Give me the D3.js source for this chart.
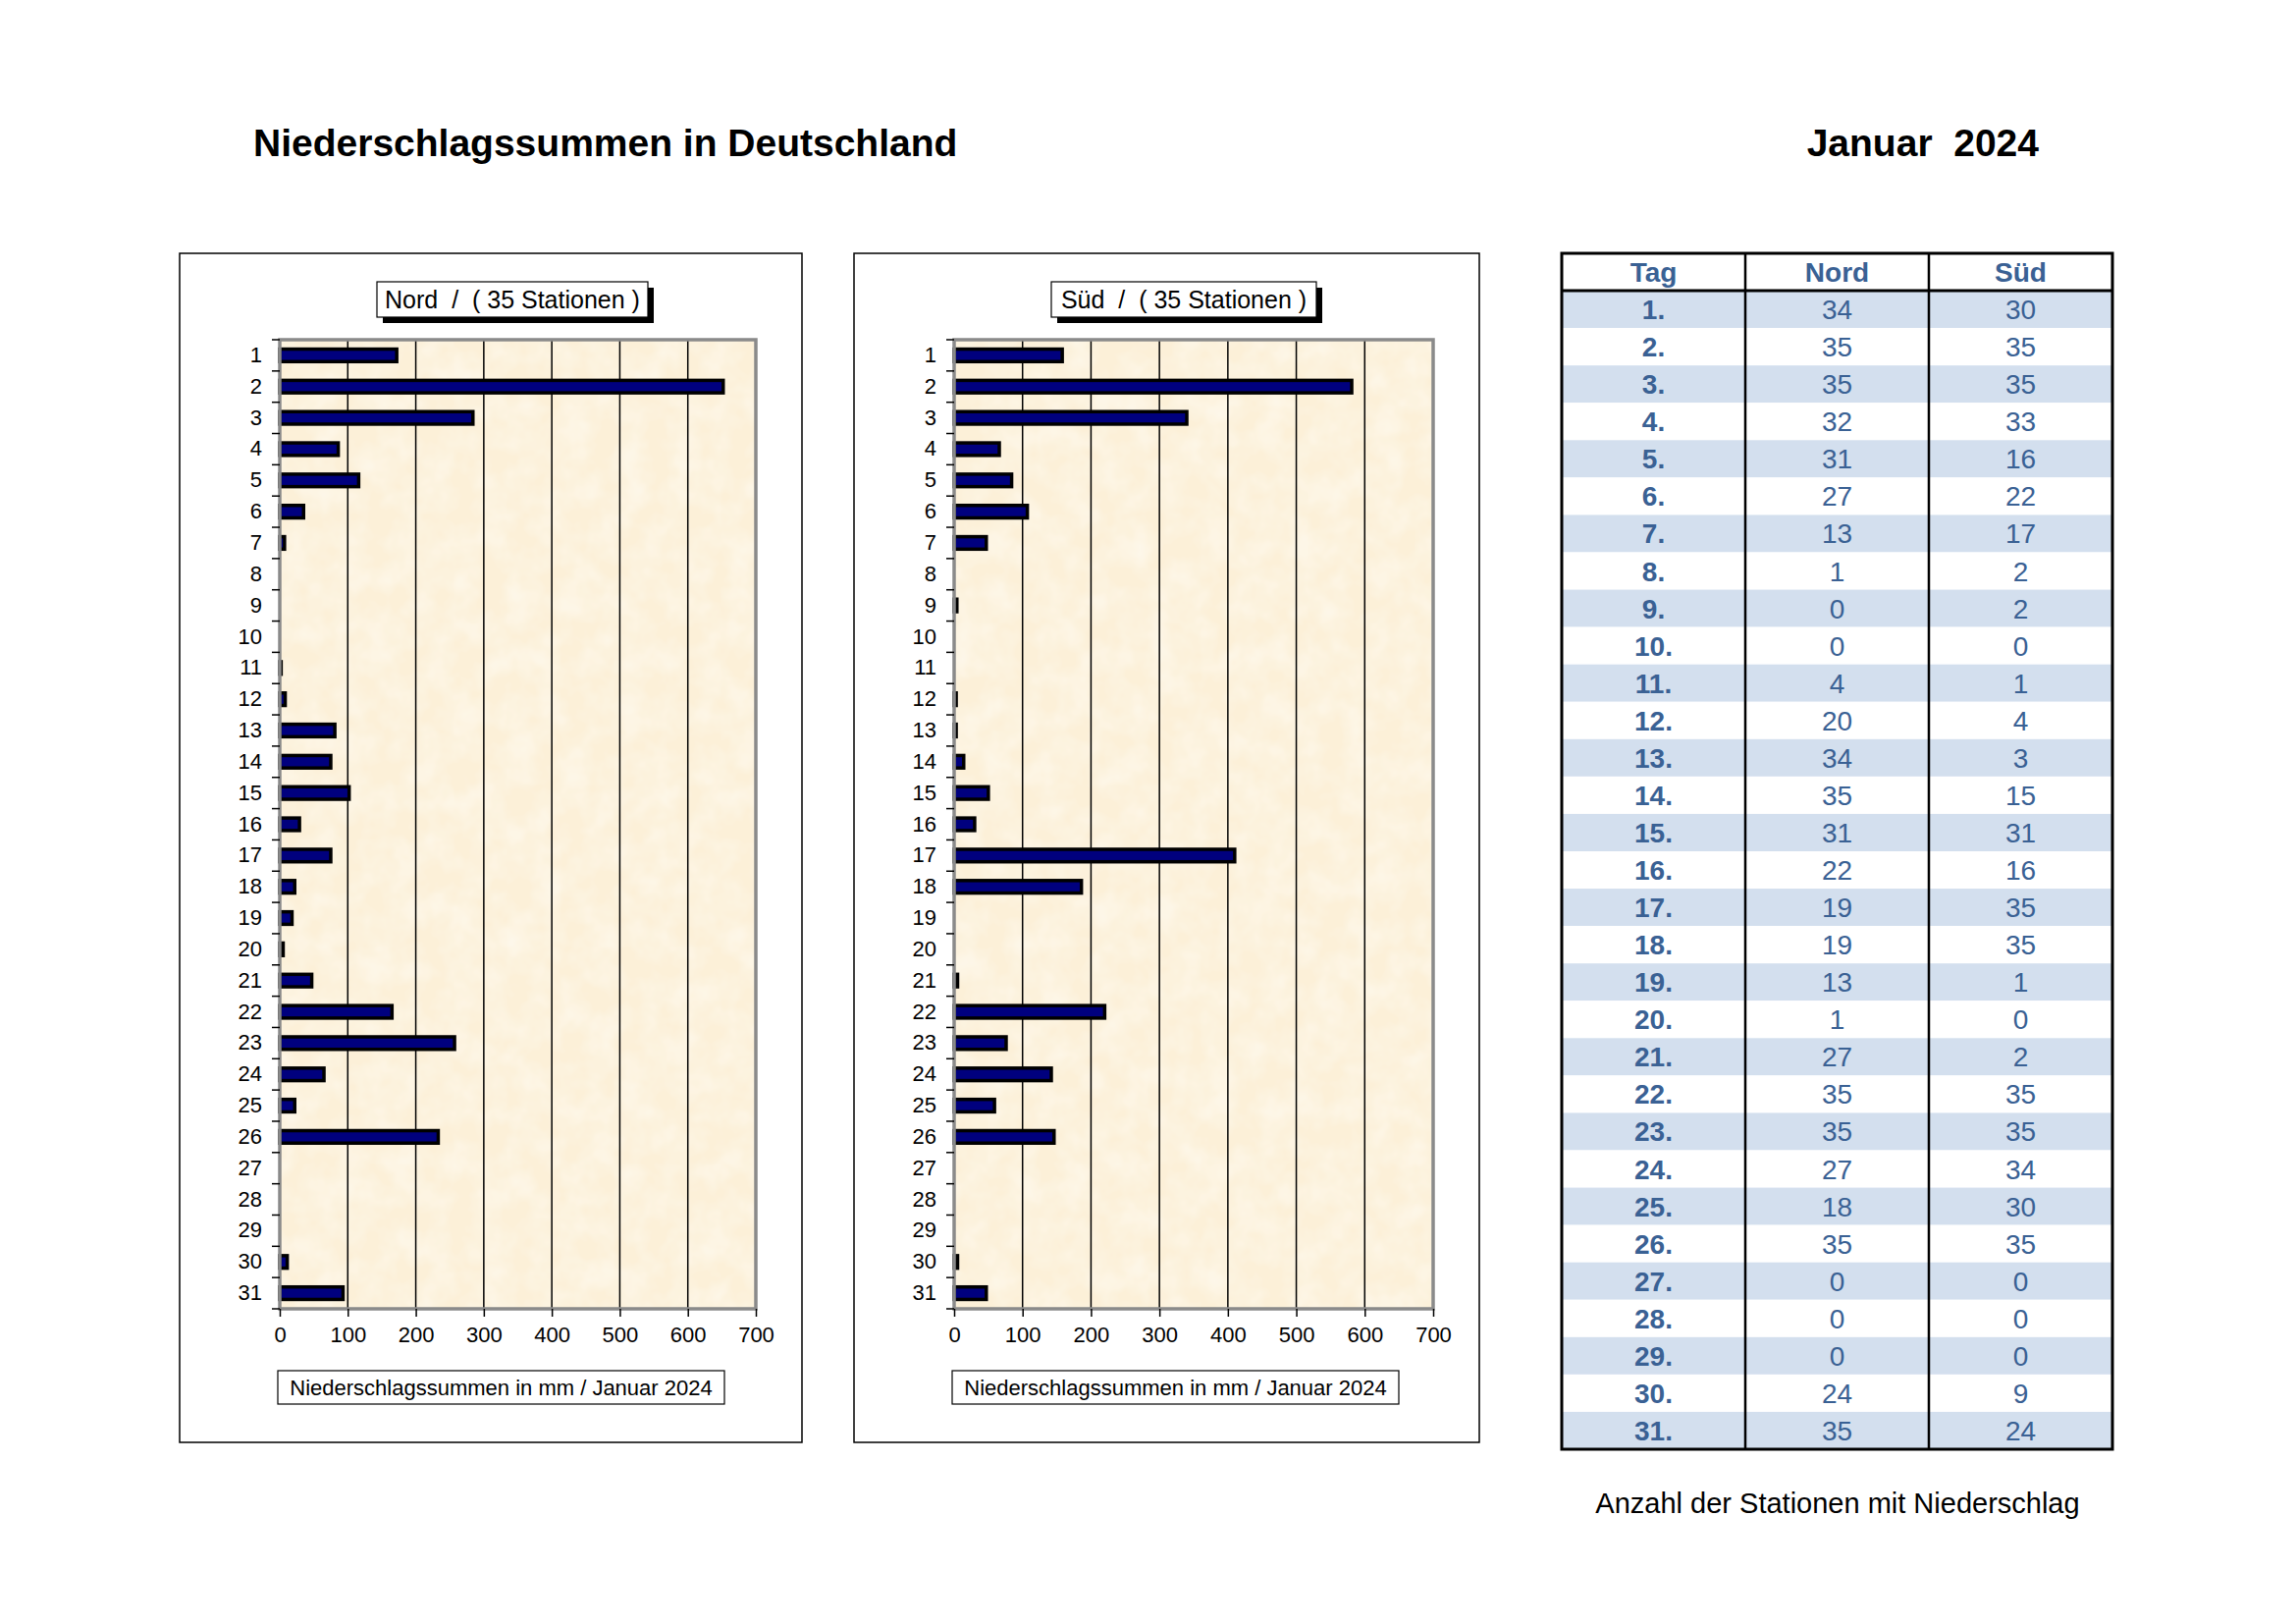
<!DOCTYPE html>
<html>
<head>
<meta charset="utf-8">
<script src="https://cdn.jsdelivr.net/npm/d3@7"></script>
<style>
  body { margin: 0; background: #fff; }
  svg { display: block; font-family: "Liberation Sans", Arial, sans-serif; }
</style>
</head>
<body>
<svg id="chart" width="2339" height="1654"></svg>
<script>
// Tage und Werte
const days = ["1","2","3","4","5","6","7","8","9","10","11","12","13","14","15","16",
  "17","18","19","20","21","22","23","24","25","26","27","28","29","30","31"];
// Niederschlagssummen in mm
const nordMm = [172, 652, 284, 86, 116, 35, 7, 0, 0, 0, 2, 8, 81, 75, 102, 29,
  75, 22, 18, 5, 47, 165, 257, 65, 22, 233, 0, 0, 0, 11, 93];
const suedMm = [158, 581, 340, 66, 84, 107, 47, 0, 4, 0, 0, 3, 3, 14, 50, 30,
  410, 186, 0, 0, 5, 220, 76, 142, 59, 146, 0, 0, 0, 5, 47];
// Anzahl der Stationen mit Niederschlag
const nordStations = [34, 35, 35, 32, 31, 27, 13, 1, 0, 0, 4, 20, 34, 35, 31, 22,
  19, 19, 13, 1, 27, 35, 35, 27, 18, 35, 0, 0, 0, 24, 35];
const suedStations = [30, 35, 35, 33, 16, 22, 17, 2, 2, 0, 1, 4, 3, 15, 31, 16,
  35, 35, 1, 0, 2, 35, 35, 34, 30, 35, 0, 0, 0, 9, 24];
const xTicks = [0, 100, 200, 300, 400, 500, 600, 700];
const tableHead = ["Tag", "Nord", "Süd"];

const svg = d3.select("#chart");

// Pergament-Hintergrund
const defs = svg.append("defs");
const filt = defs.append("filter").attr("id", "parchment")
  .attr("x", 0).attr("y", 0).attr("width", 1).attr("height", 1);
filt.append("feTurbulence").attr("type", "fractalNoise")
  .attr("baseFrequency", 0.035).attr("numOctaves", 3).attr("seed", 4).attr("result", "noise");
filt.append("feColorMatrix").attr("in", "noise").attr("type", "matrix")
  .attr("values", "0 0 0 0 0.99  0 0 0 0 0.96  0 0 0 0 0.88  0 0 0 -1.1 0.75")
  .attr("result", "spots");
filt.append("feComposite").attr("in", "spots").attr("in2", "SourceGraphic").attr("operator", "over");

// Kopfzeile
svg.append("text").attr("x", 258).attr("y", 159)
  .attr("font-size", 39).attr("font-weight", "bold")
  .text("Niederschlagssummen in Deutschland");
svg.append("text").attr("x", 2077).attr("y", 159)
  .attr("font-size", 39).attr("font-weight", "bold")
  .attr("text-anchor", "end").style("white-space", "pre")
  .text("Januar  2024");

function drawChart(cfg) {
  const g = svg.append("g");

  // Rahmen
  g.append("rect").attr("x", cfg.frame[0]).attr("y", 258)
    .attr("width", cfg.frame[1] - cfg.frame[0]).attr("height", 1469 - 258)
    .attr("fill", "#fff").attr("stroke", "#000").attr("stroke-width", 1.5);

  const x = d3.scaleLinear().domain([0, 700]).range([cfg.left, cfg.right]);
  const y = d3.scaleBand().domain(days).range([346, 1333]).paddingInner(0.6).paddingOuter(0.3);

  // Zeichenfläche
  g.append("rect").attr("x", cfg.left).attr("y", 346)
    .attr("width", cfg.right - cfg.left).attr("height", 1333 - 346)
    .attr("fill", "#fcf0d8").attr("filter", "url(#parchment)");

  // Gitterlinien
  g.append("g").selectAll("line").data(xTicks.slice(1, -1)).join("line")
    .attr("x1", d => x(d)).attr("x2", d => x(d))
    .attr("y1", 346).attr("y2", 1333)
    .attr("stroke", "#000").attr("stroke-width", 1.5);

  // Balken
  g.append("g").selectAll("rect").data(cfg.values.map((v, i) => ({ day: days[i], v })))
    .join("rect")
    .filter(d => d.v > 0)
    .attr("x", x(0))
    .attr("y", d => y(d.day))
    .attr("width", d => Math.max(x(d.v) - x(0), 1))
    .attr("height", y.bandwidth())
    .attr("fill", "#00007e").attr("stroke", "#000").attr("stroke-width", 3.5);

  // Rand der Zeichenfläche (grau, 3D-Wand)
  g.append("rect").attr("x", cfg.left).attr("y", 346)
    .attr("width", cfg.right - cfg.left).attr("height", 1333 - 346)
    .attr("fill", "none").attr("stroke", "#8a8a8a").attr("stroke-width", 3.5);

  // x-Achse
  const xAxis = g.append("g").attr("transform", "translate(0,1333)")
    .call(d3.axisBottom(x).tickValues(xTicks).tickSize(8).tickPadding(10));
  xAxis.select(".domain").remove();
  xAxis.selectAll("line").attr("stroke", "#000").attr("stroke-width", 1.5);
  xAxis.selectAll("text").attr("font-size", 22).attr("font-family", "Liberation Sans, Arial, sans-serif")
    .attr("fill", "#000");

  // y-Achse
  const yAxis = g.append("g").attr("transform", `translate(${cfg.left},0)`)
    .call(d3.axisLeft(y).tickSize(0).tickPadding(18));
  yAxis.select(".domain").remove();
  yAxis.selectAll("text").attr("font-size", 22).attr("font-family", "Liberation Sans, Arial, sans-serif")
    .attr("fill", "#000");
  const step = (1333 - 346) / days.length;
  g.append("g").selectAll("line").data(d3.range(days.length + 1)).join("line")
    .attr("x1", cfg.left - 8).attr("x2", cfg.left)
    .attr("y1", i => 346 + i * step).attr("y2", i => 346 + i * step)
    .attr("stroke", "#000").attr("stroke-width", 1.5);

  // Titelkasten mit Schatten
  const tb = cfg.titleBox;
  g.append("rect").attr("x", tb[0] + 6).attr("y", 287 + 6)
    .attr("width", tb[1] - tb[0]).attr("height", 36).attr("fill", "#000");
  g.append("rect").attr("x", tb[0]).attr("y", 287)
    .attr("width", tb[1] - tb[0]).attr("height", 36)
    .attr("fill", "#fff").attr("stroke", "#000").attr("stroke-width", 1.2);
  g.append("text").attr("x", (tb[0] + tb[1]) / 2).attr("y", 314)
    .attr("text-anchor", "middle").attr("font-size", 25).style("white-space", "pre")
    .text(cfg.title);

  // Achsentitel
  const ab = cfg.axisBox;
  g.append("rect").attr("x", ab[0]).attr("y", 1396)
    .attr("width", ab[1] - ab[0]).attr("height", 34)
    .attr("fill", "#fff").attr("stroke", "#000").attr("stroke-width", 1.2);
  g.append("text").attr("x", (ab[0] + ab[1]) / 2).attr("y", 1421)
    .attr("text-anchor", "middle").attr("font-size", 22)
    .text("Niederschlagssummen in mm / Januar 2024");
}

drawChart({
  frame: [183, 817], left: 285, right: 770,
  titleBox: [384, 660], axisBox: [283, 738],
  title: "Nord  /  ( 35 Stationen )", values: nordMm
});
drawChart({
  frame: [870, 1507], left: 972, right: 1460,
  titleBox: [1071, 1341], axisBox: [970, 1425],
  title: "Süd  /  ( 35 Stationen )", values: suedMm
});

// Tabelle
const colX = [1591, 1778, 1965, 2152];
const tTop = 258, tBottom = 1476;
const rowH = (tBottom - tTop) / (days.length + 1);
const tg = svg.append("g");
const rows = days.map((d, i) => [d + ".", nordStations[i], suedStations[i]]);

tg.selectAll("rect.band").data(rows).join("rect").attr("class", "band")
  .attr("x", colX[0]).attr("width", colX[3] - colX[0])
  .attr("y", (r, i) => tTop + rowH * (i + 1)).attr("height", rowH)
  .attr("fill", (r, i) => i % 2 === 0 ? "#d3dfee" : "#fff");

tg.selectAll("text.head").data(tableHead).join("text").attr("class", "head")
  .attr("x", (h, j) => (colX[j] + colX[j + 1]) / 2).attr("y", tTop + rowH / 2 + 10)
  .attr("text-anchor", "middle").attr("font-size", 28).attr("font-weight", "bold")
  .attr("fill", "#3a6194").text(h => h);

rows.forEach((r, i) => {
  tg.selectAll(null).data(r).join("text")
    .attr("x", (v, j) => (colX[j] + colX[j + 1]) / 2)
    .attr("y", tTop + rowH * (i + 1) + rowH / 2 + 10)
    .attr("text-anchor", "middle").attr("font-size", 28)
    .attr("font-weight", (v, j) => j === 0 ? "bold" : "normal")
    .attr("fill", "#3a6194").text(v => v);
});

tg.append("line").attr("x1", colX[0]).attr("x2", colX[3])
  .attr("y1", tTop + rowH).attr("y2", tTop + rowH)
  .attr("stroke", "#000").attr("stroke-width", 3);
tg.selectAll("line.col").data(colX.slice(1, 3)).join("line").attr("class", "col")
  .attr("x1", d => d).attr("x2", d => d).attr("y1", tTop).attr("y2", tBottom)
  .attr("stroke", "#000").attr("stroke-width", 2.5);
tg.append("rect").attr("x", colX[0]).attr("y", tTop)
  .attr("width", colX[3] - colX[0]).attr("height", tBottom - tTop)
  .attr("fill", "none").attr("stroke", "#000").attr("stroke-width", 3);

svg.append("text").attr("x", 1872).attr("y", 1541)
  .attr("text-anchor", "middle").attr("font-size", 29)
  .text("Anzahl der Stationen mit Niederschlag");
</script>
</body>
</html>
